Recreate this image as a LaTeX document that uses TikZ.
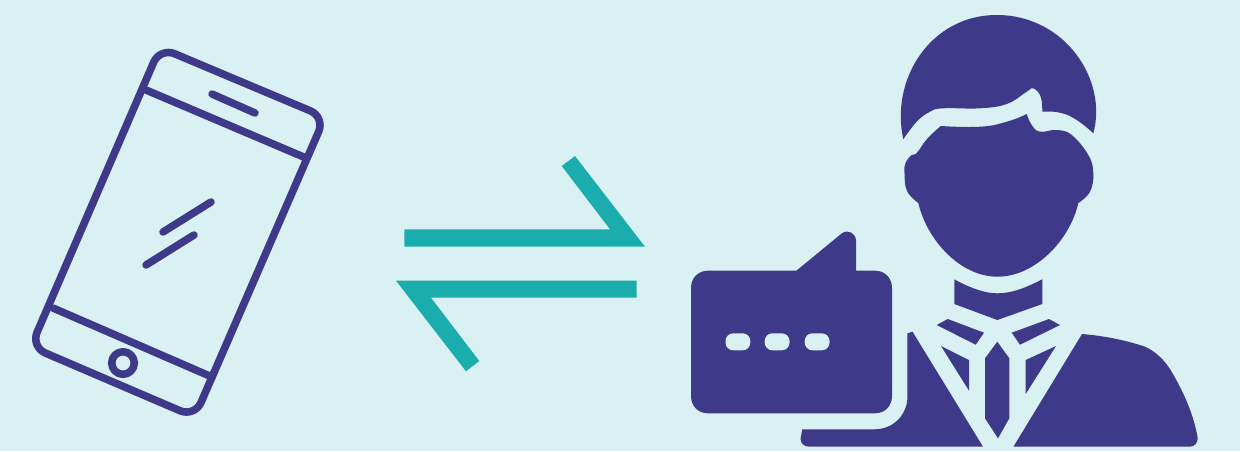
\documentclass[tikz,border=0pt]{standalone}
\usepackage{tikz}
\definecolor{mybg}{HTML}{D9F1F2}
\definecolor{mynavy}{HTML}{3E3A89}
\definecolor{myteal}{HTML}{1BADAD}

\begin{document}
\begin{tikzpicture}[
    x=0.02cm, y=-0.02cm,
    phoneline/.style={draw=mynavy, line width=4.3pt, line cap=round, line join=round},
    person/.style={fill=mynavy},
    swap/.style={fill=myteal},
    dot/.style={fill=mybg, rounded corners=4.4pt}
  ]
  \fill[mybg] (0,0) rectangle (1240,451);
  \useasboundingbox (0,0) rectangle (1240,451);
  % phone
  \draw[phoneline, rounded corners=9pt] (160,47.6) -- (325,117) -- (194.7,417) -- (30.8,346.8) -- cycle;
  \draw[phoneline] (146,90) -- (306,158);
  \draw[phoneline] (53,308) -- (212,377);
  \draw[phoneline] (212,94) -- (255,113);
  \draw[phoneline] (163,232) -- (211,202);
  \draw[phoneline] (146,265) -- (194,235);
  \draw[phoneline, fill=mybg] (123,363) circle (11.3);
  % arrows
  \fill[swap] (404.3,229.3) -- (610,229.3) -- (561.7,166) -- (575,156) -- (645,246.7) -- (404.3,246.7) -- cycle;
  \fill[swap] (636.7,280.7) -- (396,280.7) -- (466,371.3) -- (479.3,361) -- (431,297.7) -- (636.7,297.7) -- cycle;
  % speech bubble
  \fill[person] (796.4,270.7) -- (841.9,233.3) .. controls (848,229) and (856,233) .. (856,241) -- (856,270.7)
    -- (875,270.7) .. controls (885,270.7) and (892,278) .. (892,288) -- (892,396)
    .. controls (892,406) and (885,413.3) .. (875,413.3) -- (708,413.3)
    .. controls (698,413.3) and (691,406) .. (691,396) -- (691,288)
    .. controls (691,278) and (698,270.7) .. (708,270.7) -- cycle;
  \foreach \dotx in {725.5,764.7,804.7}
    \fill[dot] (\dotx,333.3) rectangle ++(24.8,17);
  % head
  \fill[person] (903.3,139.3) .. controls (890,80) and (930,15) .. (996.7,15) .. controls (1065,15) and (1108,80) .. (1093.3,133.3)
    -- plot[smooth, tension=0.8] coordinates {(1093.3,133.3) (1076.7,120) (1060,112.7) (1042.3,111.7)}
    -- plot[smooth, tension=0.7] coordinates {(1042.3,111.7) (1040.7,96.7) (1033.3,88.3) (1026.7,91.7) (1006.7,104) (980,108.3) (943.3,108.3) (930,111.7) (916.7,121.7) (903.3,139.3)} -- cycle;
  \fill[person] plot[smooth, tension=0.8] coordinates {(940.7,126) (980,126.7) (1006.7,121.7) (1026.7,114)}
    -- plot[smooth, tension=0.7] coordinates {(1026.7,114) (1031.7,125) (1040,131.7) (1056.7,130) (1071.7,135) (1088.3,155) (1093.3,173) (1090,191.7) (1078.3,203)}
    .. controls (1070,240) and (1035,276.7) .. (997.6,276.7) .. controls (960,276.7) and (927,240) .. (918.3,203)
    -- plot[smooth, tension=0.7] coordinates {(918.3,203) (907,191) (904.5,173) (905.5,163) (911.7,155) (916.7,153) (927,139) (940.7,126)} -- cycle;
  % neck and collar
  \fill[person] (954.3,279.3) .. controls (970,288) and (985,293.3) .. (997.3,293.3) .. controls (1012,293.3) and (1025,288) .. (1042.3,279.3) -- (1042.3,304) -- (997.3,320) -- (954.3,304) -- cycle;
  \fill[person] (936.7,325) -- (947.7,319) -- (984,332.7) -- (975.7,344.7) -- cycle;
  \fill[person] (1011.7,332.7) -- (1049,319) -- (1060,325) -- (1020,344.7) -- cycle;
  % tie and lapels
  \fill[person] (997.3,341.7) -- (1009.3,358.3) -- (1009.3,418.3) -- (998,438.3) -- (985,418.3) -- (985,358.3) -- cycle;
  \fill[person] (941,346) -- (969,360) -- (969,390.7) -- cycle;
  \fill[person] (1025.7,360) -- (1056,346) -- (1025.7,394) -- cycle;
  % shoulders
  \fill[person] (907.4,333.3) -- (912.5,331.7) -- (983,446.7) -- (809,446.7) .. controls (803,446.7) and (800,442) .. (800.6,438) -- (802.3,429.3) -- (874.6,429.3) .. controls (894,429.3) and (907.4,414) .. (907.4,396.7) -- cycle;
  \fill[person] (1082,334) -- (1013.4,446.7) -- (1189.8,446.7) .. controls (1195,446.7) and (1198,442) .. (1197.7,438)
    .. controls (1194,416) and (1185,395) .. (1172.6,373.3) .. controls (1165,360) and (1155,351) .. (1145,346.7) .. controls (1125,340) and (1105,336) .. (1082,334) -- cycle;
\end{tikzpicture}
\end{document}
